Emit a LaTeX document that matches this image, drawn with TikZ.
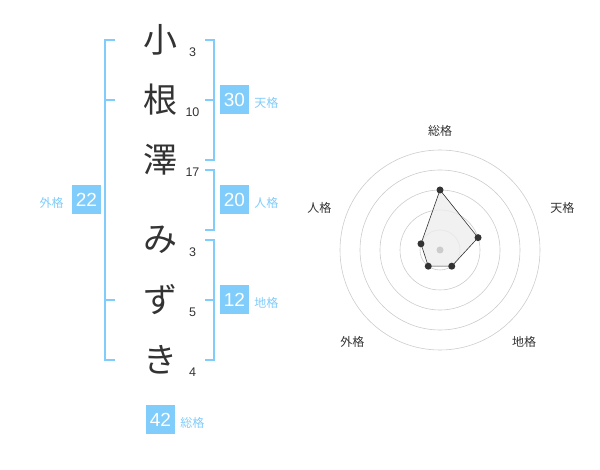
\documentclass[tikz,border=0pt]{standalone}
\usepackage{fontspec}
\usetikzlibrary{positioning}
\setmainfont{Liberation Sans}
\newfontfamily\jp{Noto Sans CJK JP}
\definecolor{kakublue}{RGB}{128,204,250}
\definecolor{inkgray}{RGB}{51,51,51}
\definecolor{ringgray}{RGB}{204,204,204}

\tikzset{
  bracket/.style={draw=kakublue, line width=1.6pt},
  kanji/.style={font=\jp\fontsize{34}{34}\selectfont, text=inkgray, inner sep=0pt},
  strokes/.style={font=\fontsize{12.5}{12.5}\selectfont, text=inkgray, inner sep=0pt},
  score/.style={fill=kakublue, text=white, minimum size=29pt, inner sep=0pt,
    font=\fontsize{19}{19}\selectfont},
  kaku/.style={text=kakublue, font=\jp\fontsize{12}{12}\selectfont, inner sep=0pt},
  ring/.style={draw=ringgray, line width=0.6pt},
  axislabel/.style={text=inkgray, font=\jp\fontsize{12}{12}\selectfont, inner sep=0pt},
  vertex/.style={circle, fill=inkgray, inner sep=0pt, minimum size=7pt},
}

\begin{document}
\begin{tikzpicture}[x=1pt, y=-1pt]
      \useasboundingbox (0,0) rectangle (600,470);

      % Name
      \node[kanji] (c1) at (160,40) {小};
      \node[kanji] (c2) at (160,100) {根};
      \node[kanji] (c3) at (160,160) {澤};
      \node[kanji] (c4) at (160,240) {み};
      \node[kanji] (c5) at (160,300) {ず};
      \node[kanji] (c6) at (160,360) {き};

      % Strokes
      \node[strokes] (n1) at (192.5,52.5) {3};
      \node[strokes] (n2) at (192.5,112.5) {10};
      \node[strokes] (n3) at (192.5,172.5) {17};
      \node[strokes] (n4) at (192.5,252.5) {3};
      \node[strokes] (n5) at (192.5,312.5) {5};
      \node[strokes] (n6) at (192.5,372.5) {4};

      % Brackets
      \draw[bracket] (115,40) -- (105,40) -- (105,360) -- (115,360);
      \draw[bracket] (105,100) -- (115,100);
      \draw[bracket] (105,300) -- (115,300);
      \draw[bracket] (205,40) -- (214,40) -- (214,160) -- (205,160);
      \draw[bracket] (205,100) -- (214,100);
      \draw[bracket] (205,170) -- (214,170) -- (214,230) -- (205,230);
      \draw[bracket] (205,240) -- (214,240) -- (214,360) -- (205,360);
      \draw[bracket] (205,300) -- (214,300);

      % Scores
      \node[score] (ten) at (234.5,100) {30};
      \node[kaku, right=5pt of ten, yshift=-3pt] (tenl) {天格};
      \node[score] (jin) at (234.5,200) {20};
      \node[kaku, right=5pt of jin, yshift=-3pt] (jinl) {人格};
      \node[score] (chi) at (234.5,300) {12};
      \node[kaku, right=5pt of chi, yshift=-3pt] (chil) {地格};
      \node[score] (gai) at (86.5,200) {22};
      \node[kaku, left=8pt of gai, yshift=-3pt] (gail) {外格};
      \node[score] (so) at (160.5,419.5) {42};
      \node[kaku, right=5pt of so, yshift=-3pt] (sol) {総格};

      % Radar
      \begin{scope}[shift={(440,250)}, y=1pt]
        \foreach \r in {20,40,60,80,100}
          \draw[ring] (0,0) circle (\r pt);

        \coordinate (pso) at (90:60);
        \coordinate (pten) at (18:40);
        \coordinate (pchi) at (-54:20);
        \coordinate (pgai) at (-126:20);
        \coordinate (pjin) at (162:20);
        \filldraw[fill=black!7, fill opacity=0.8, draw=inkgray, line width=0.6pt]
          (pso) -- (pten) -- (pchi) -- (pgai) -- (pjin) -- cycle;
        \fill[ringgray] (0,0) circle (3.5pt);
        \foreach \p in {pso,pten,pchi,pgai,pjin}
          \node[vertex] (v\p) at (\p) {};

        \node[axislabel] (aso) at (0,119.3) {総格};
        \node[axislabel] (aten) at (122.3,41.7) {天格};
        \node[axislabel] (achi) at (84,-91.7) {地格};
        \node[axislabel] (agai) at (-87.7,-91.7) {外格};
        \node[axislabel] (ajin) at (-120.7,41.7) {人格};
      \end{scope}
    \end{tikzpicture}
\end{document}
